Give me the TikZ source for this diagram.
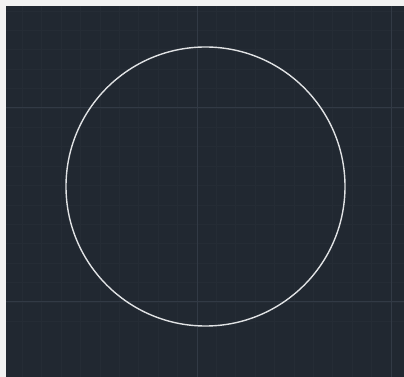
\documentclass[tikz,border=0pt]{standalone}
\usepackage{xcolor}
\usepackage{tikz}
\definecolor{canvas}{HTML}{212831}
\definecolor{margin}{HTML}{F2F2F2}
\definecolor{minorgrid}{HTML}{252C35}
\definecolor{majorgrid}{HTML}{323A45}
\definecolor{stroke}{HTML}{E0E2E4}

\begin{document}
\begin{tikzpicture}[
  x=1pt, y=1pt,
  minorline/.style={draw=minorgrid, line width=0.8pt},
  majorline/.style={draw=majorgrid, line width=1pt},
  circleline/.style={draw=stroke, line width=1.4pt}
]
\useasboundingbox (0,0) rectangle (404,377);
\fill[margin] (0,0) rectangle (404,377);
\fill[canvas] (6,0) rectangle (404,371);
% minor grid
\begin{scope}
\clip (6,0) rectangle (404,371);
\foreach \k in {-10,...,11} {
  \draw[minorline] ({197+19.4*\k},0) -- ({197+19.4*\k},371);
  \draw[minorline] (6,{269-19.4*\k}) -- (404,{269-19.4*\k});
}
% major grid
\foreach \gx in {197,391} \draw[majorline] (\gx,0) -- (\gx,371);
\foreach \gy in {269,75} \draw[majorline] (6,\gy) -- (404,\gy);
\end{scope}
% the circle
\draw[circleline] (205.5,190.5) circle[radius=139.5];
\end{tikzpicture}
\end{document}
